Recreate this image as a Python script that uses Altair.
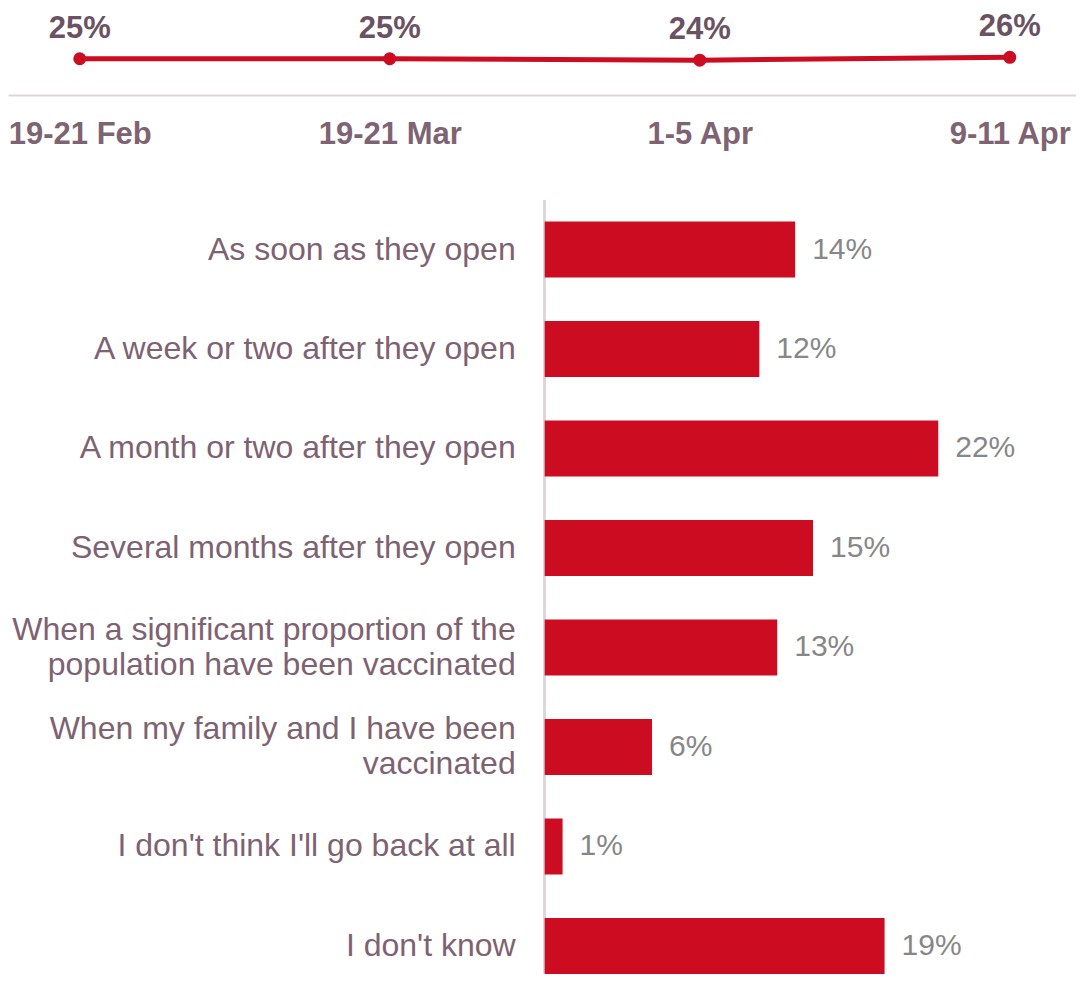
import altair as alt
import pandas as pd

# ---- data ----
waves = ["19-21 Feb", "19-21 Mar", "1-5 Apr", "9-11 Apr"]
wave_values = [25, 25, 24, 26]

categories = [
    "As soon as they open",
    "A week or two after they open",
    "A month or two after they open",
    "Several months after they open",
    "When a significant proportion of the|population have been vaccinated",
    "When my family and I have been|vaccinated",
    "I don't think I'll go back at all",
    "I don't know",
]
shares = [14, 12, 22, 15, 13, 6, 1, 19]

# ---- styles ----
FONT = "Liberation Sans"
RED = "#CB0C21"
GRID = "#DDD5D9"
DATE_COL = "#7E6373"
TOPVAL_COL = "#6A5262"
CAT_COL = "#7E6272"
VAL_COL = "#878787"

top_df = pd.DataFrame({"wave": waves, "value": wave_values})
top_df["label"] = [f"{v}%" for v in wave_values]

bar_df = pd.DataFrame({"cat": categories, "share": shares})
bar_df["pct"] = [f"{v}%" for v in shares]
bar_df["base"] = 0

# ---- top trend chart ----
xw = alt.X(
    "wave:N",
    sort=waves,
    scale=alt.Scale(type="point", padding=0.2226, align=0.52),
    axis=alt.Axis(
        title=None, ticks=False, labelAngle=0, labelFont=FONT, labelFontSize=31,
        labelFontWeight="bold", labelColor=DATE_COL, labelPadding=24,
        domainColor=GRID, domainWidth=2, labelOverlap=False, labelFlush=False,
        grid=False,
    ),
)
yw = alt.Y("value:Q", scale=alt.Scale(domain=[0, 60], nice=False), axis=None)
tbase = alt.Chart(top_df).encode(x=xw, y=yw)
tline = tbase.mark_line(color=RED, strokeWidth=5)
tpts = tbase.mark_point(filled=True, size=170, color=RED, opacity=1)
tlbl = tbase.mark_text(
    dy=-21, font=FONT, fontSize=31, fontWeight="bold", color=TOPVAL_COL,
    baseline="alphabetic",
).encode(text="label:N")
top = (tline + tpts + tlbl).properties(width=1068, height=87)

# ---- bottom bar chart ----
yb = alt.Y(
    "cat:N",
    sort=categories,
    scale=alt.Scale(paddingInner=0.437, paddingOuter=0.108, align=1),
    axis=None,
)
xscale = alt.Scale(domain=[-30, 29.7], nice=False)
xb = alt.X("share:Q", scale=xscale, axis=None)
xz = alt.X("base:Q", scale=xscale, axis=None)
bbase = alt.Chart(bar_df)
bars = bbase.mark_bar(color=RED).encode(x=xb, y=yb)
vals = bbase.mark_text(
    align="left", baseline="middle", dx=17, font=FONT, fontSize=30, color=VAL_COL
).encode(x=xb, y=yb, text="pct:N")
cat_style = dict(align="right", baseline="middle", dx=-29, font=FONT, fontSize=32,
                 color=CAT_COL, lineHeight=35)
cats1 = bbase.transform_filter("indexof(datum.cat, '|') < 0").mark_text(
    **cat_style
).encode(x=xz, y=yb, text="cat:N")
cats2 = (
    bbase.transform_filter("indexof(datum.cat, '|') >= 0")
    .transform_calculate(lines="split(datum.cat, '|')")
    .mark_text(dy=-17.5, **cat_style)
    .encode(x=xz, y=yb, text="lines:N")
)
zero = bbase.mark_rule(color=GRID, strokeWidth=2).encode(x=xz)
bottom = (zero + bars + vals + cats1 + cats2).properties(width=1068, height=774)

chart = (
    alt.vconcat(top, bottom, spacing=105, bounds="flush")
    .properties(padding=0)
    .configure_view(stroke=None)
)

chart.save("out.html", embed_options={"renderer": "svg", "actions": False})
